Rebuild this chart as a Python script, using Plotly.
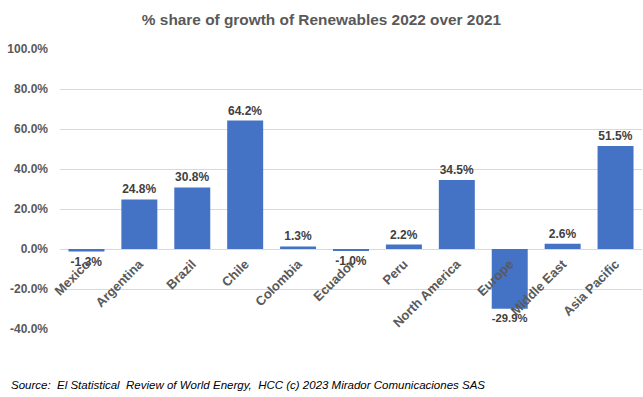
import plotly.graph_objects as go

categories = ["Mexico", "Argentina", "Brazil", "Chile", "Colombia", "Ecuador",
              "Peru", "North America", "Europe", "Middle East", "Asia Pacific"]
values = [-1.3, 24.8, 30.8, 64.2, 1.3, -1.0, 2.2, 34.5, -29.9, 2.6, 51.5]
y_ticks = [-40, -20, 0, 20, 40, 60, 80, 100]
y_tick_labels = [f"{v:.1f}%" for v in y_ticks]

title_text = "% share of growth of Renewables 2022 over 2021"
source_text = "Source:  El Statistical  Review of World Energy,  HCC (c) 2023 Mirador Comunicaciones SAS"

FONT = "Liberation Sans"
GREY = "#595959"
PLOT_W, PLOT_H = 582, 280

fig = go.Figure()
fig.add_trace(go.Bar(
    x=categories,
    y=values,
    marker=dict(color="#4472C4", line=dict(width=0)),
    texttemplate="%{y:.1f}%",
    textposition="outside",
    textfont=dict(family=FONT, size=12, color="#404040", weight="bold"),
    cliponaxis=False,
))

fig.update_layout(
    width=643, height=397,
    margin=dict(l=60, r=1, t=49, b=68, autoexpand=False),
    paper_bgcolor="white",
    plot_bgcolor="white",
    bargap=0.32,
    showlegend=False,
    title=dict(text=title_text, x=0.5, xanchor="center", xref="container",
               y=1 - 20 / 397, yanchor="middle", yref="container",
               font=dict(family=FONT, size=15.4, color=GREY, weight="bold")),
    xaxis=dict(
        anchor="free", position=80 / PLOT_H,
        tickangle=-45, automargin=False, ticklabelstandoff=4,
        tickfont=dict(family=FONT, size=13, color=GREY, weight="bold"),
        showgrid=False, showline=False, ticks="",
    ),
    yaxis=dict(
        range=[-40, 100], automargin=False,
        tickmode="array", tickvals=y_ticks, ticktext=y_tick_labels,
        tickfont=dict(family=FONT, size=12, color=GREY, weight="bold"),
        showgrid=True, gridcolor="#D9D9D9", gridwidth=1,
        zeroline=True, zerolinecolor="#D9D9D9", zerolinewidth=1,
        showline=False, ticks="", ticklabelstandoff=11,
    ),
    annotations=[dict(
        text=source_text, xref="paper", yref="paper",
        x=(9 - 60) / PLOT_W, y=(329 - 385) / PLOT_H, xanchor="left", yanchor="middle",
        showarrow=False,
        font=dict(family=FONT, size=11.5, color="#000000", style="italic"),
    )],
)

fig.write_html(
    "out.html",
    config={"displayModeBar": False},
    post_script="document.body.style.margin='0';document.body.style.overflow='hidden';",
)
